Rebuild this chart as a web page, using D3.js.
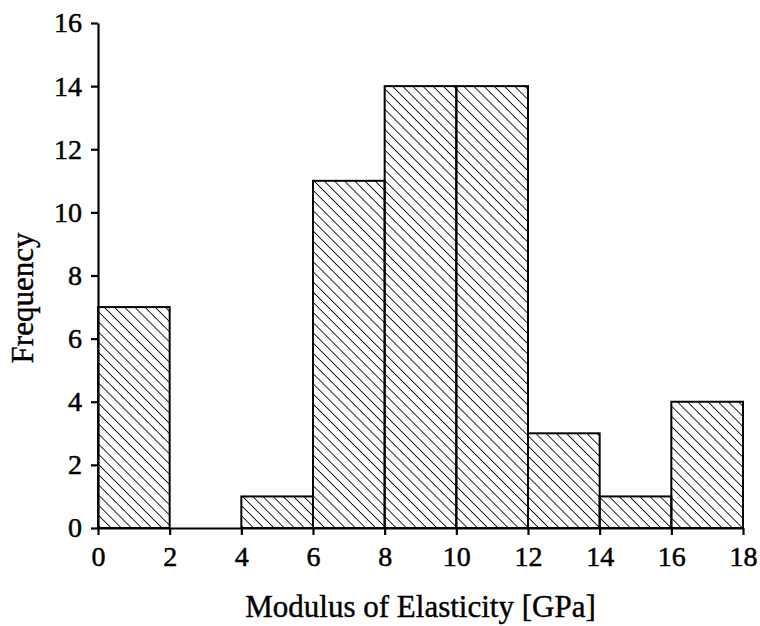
<!DOCTYPE html>
<html>
<head>
<meta charset="utf-8">
<script src="https://cdn.jsdelivr.net/npm/d3@7"></script>
<style>
  body { margin: 0; background: #fff; }
  svg text { font-family: "Liberation Serif", "Times New Roman", serif; fill: #000; }
</style>
</head>
<body>
<div id="chart"></div>
<script>
// histogram bins (GPa) and counts
const binStarts = [0, 2, 4, 6, 8, 10, 12, 14, 16];
const binWidth = 2;
const counts = [7, 0, 1, 11, 14, 14, 3, 1, 4];
const xTicks = [0, 2, 4, 6, 8, 10, 12, 14, 16, 18];
const yTicks = [0, 2, 4, 6, 8, 10, 12, 14, 16];

const width = 760, height = 626;
const margin = { top: 23, right: 17, bottom: 98, left: 98 };

const svg = d3.select('#chart').append('svg')
  .attr('width', width)
  .attr('height', height);

// diagonal hatch, lines running top-left to bottom-right
const defs = svg.append('defs');
const pat = defs.append('pattern')
  .attr('id', 'hatch')
  .attr('patternUnits', 'userSpaceOnUse')
  .attr('width', 7.2)
  .attr('height', 10)
  .attr('patternTransform', 'rotate(-45)');
pat.append('line')
  .attr('x1', 0).attr('y1', 0)
  .attr('x2', 0).attr('y2', 10)
  .attr('stroke', '#000')
  .attr('stroke-width', 1.7);

const x = d3.scaleLinear().domain([0, 18]).range([margin.left, width - margin.right]);
const y = d3.scaleLinear().domain([0, 16]).range([height - margin.bottom, margin.top]);

const bars = binStarts.map((s, i) => ({ x0: s, x1: s + binWidth, n: counts[i] }))
  .filter(d => d.n > 0);

svg.selectAll('.bar')
  .data(bars)
  .join('rect')
    .attr('class', 'bar')
    .attr('x', d => x(d.x0))
    .attr('y', d => y(d.n))
    .attr('width', d => x(d.x1) - x(d.x0))
    .attr('height', d => y(0) - y(d.n))
    .attr('fill', 'url(#hatch)')
    .attr('stroke', '#000')
    .attr('stroke-width', 2);

const xAxis = svg.append('g')
  .attr('transform', `translate(0,${y(0)})`)
  .call(d3.axisBottom(x).tickValues(xTicks).tickSize(7).tickPadding(11).tickSizeOuter(0));

const yAxis = svg.append('g')
  .attr('transform', `translate(${x(0)},0)`)
  .call(d3.axisLeft(y).tickValues(yTicks).tickSize(7).tickPadding(9).tickSizeOuter(0));

[xAxis, yAxis].forEach(g => {
  g.attr('font-size', null).attr('font-family', null);
  g.selectAll('path, line').attr('stroke', '#000').attr('stroke-width', 2.2);
  g.selectAll('text')
    .style('font-size', '28px')
    .style('font-family', '"Liberation Serif", serif')
    .style('stroke', '#000')
    .style('stroke-width', '0.5px')
    .attr('fill', '#000');
});

svg.append('text')
  .attr('x', x(9))
  .attr('y', 617)
  .attr('text-anchor', 'middle')
  .style('font-size', '31px')
  .style('stroke', '#000')
  .style('stroke-width', '0.4px')
  .text('Modulus of Elasticity [GPa]');

svg.append('text')
  .attr('transform', 'translate(33,298) rotate(-90)')
  .attr('text-anchor', 'middle')
  .style('font-size', '31px')
  .style('stroke', '#000')
  .style('stroke-width', '0.4px')
  .text('Frequency');
</script>
</body>
</html>
